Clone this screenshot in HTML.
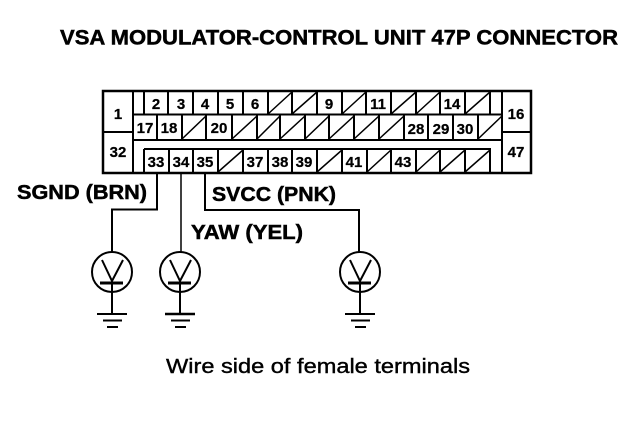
<!DOCTYPE html>
<html><head><meta charset="utf-8"><style>
html,body{margin:0;padding:0;background:#fff;width:640px;height:428px;overflow:hidden}
svg{display:block}
text{font-family:"Liberation Sans",sans-serif;fill:#000}
.b{font-weight:bold;stroke:#000;stroke-width:.5px}
.n{font-size:15px;font-weight:bold;text-anchor:middle;stroke:#000;stroke-width:.25px}
.l{stroke:#000;fill:none;stroke-width:2}
.t{stroke:#000;fill:none;stroke-width:1.5}
</style></head><body>
<svg width="640" height="428" viewBox="0 0 640 428" xmlns="http://www.w3.org/2000/svg">
<text class="b" x="60" y="44.500" font-size="21.500" textLength="558" lengthAdjust="spacingAndGlyphs">VSA MODULATOR-CONTROL UNIT 47P CONNECTOR</text>

<path class="l" style="stroke-width:2.5" d="M103 91H531V173H103Z"/>
<path class="l" d="M133 91V173M502 91V173M103 132H133M502 132H531M133 114.500H502M133 140H502M144 149H490V173M144 149V173"/>
<!-- row 1 verticals -->
<path class="l" d="M144 91V115M168 91V115M193 91V115M218 91V115M243 91V115M268 91V115M292 91V115M317 91V115M342 91V115M366 91V115M391 91V115M416 91V115M440 91V115M465 91V115M490 91V115"/>
<!-- row 2 verticals -->
<path class="l" d="M157 115V140M182 115V140M206 115V140M232 115V140M257 115V140M280 115V140M305 115V140M329 115V140M354 115V140M379 115V140M404 115V140M428 115V140M453 115V140M478 115V140"/>
<!-- row 3 verticals -->
<path class="l" d="M169 149V173M193 149V173M218 149V173M243 149V173M268 149V173M292 149V173M317 149V173M342 149V173M367 149V173M391 149V173M416 149V173M440 149V173M465 149V173"/>
<!-- diagonals -->
<path class="t" d="M268 114L292 92M292 114L317 92M342 114L366 92M391 114L416 92M416 114L440 92M465 114L490 92
M182 139L206 116M232 139L257 116M257 139L280 116M280 139L305 116M305 139L329 116M329 139L354 116M354 139L379 116M379 139L404 116M478 139L502 116
M218 172L243 150M317 172L342 150M367 172L391 150M416 172L440 150M440 172L465 150M465 172L490 150"/>

<g>
<text class="n" x="118" y="119">1</text>
<text class="n" x="118" y="157">32</text>
<text class="n" x="516" y="119">16</text>
<text class="n" x="516" y="157">47</text>
<text class="n" x="156" y="109">2</text>
<text class="n" x="181" y="109">3</text>
<text class="n" x="205" y="109">4</text>
<text class="n" x="230" y="109">5</text>
<text class="n" x="255" y="109">6</text>
<text class="n" x="329" y="109">9</text>
<text class="n" x="378" y="109">11</text>
<text class="n" x="452" y="109">14</text>
<text class="n" x="145" y="133">17</text>
<text class="n" x="169" y="133">18</text>
<text class="n" x="219" y="133">20</text>
<text class="n" x="416" y="134">28</text>
<text class="n" x="441" y="134">29</text>
<text class="n" x="465" y="134">30</text>
<text class="n" x="156" y="167">33</text>
<text class="n" x="181" y="167">34</text>
<text class="n" x="205" y="167">35</text>
<text class="n" x="255" y="167">37</text>
<text class="n" x="280" y="167">38</text>
<text class="n" x="304" y="167">39</text>
<text class="n" x="354" y="167">41</text>
<text class="n" x="403" y="167">43</text>
</g>

<text class="b" x="17" y="199" font-size="20" textLength="130" lengthAdjust="spacingAndGlyphs">SGND (BRN)</text>
<text class="b" x="212" y="201" font-size="20" textLength="124" lengthAdjust="spacingAndGlyphs">SVCC (PNK)</text>
<text class="b" x="191" y="239" font-size="20" textLength="112" lengthAdjust="spacingAndGlyphs">YAW (YEL)</text>

<path class="l" d="M157 173V209.500H112V252"/>
<path class="t" d="M181 173V252"/>
<path class="l" d="M205 173V210H359V252"/>

<g>
<circle class="l" cx="112" cy="272" r="20"/>
<path class="l" d="M102 260L112 281L123 260"/>
<path class="l" style="stroke-width:3" d="M100 283H123"/>
<path class="l" d="M112 283V313"/>
<path class="l" d="M97 314H127"/>
<path class="l" d="M103 320.500H122"/>
<path class="l" d="M107 327H118"/>
</g>
<g transform="translate(68,0)">
<circle class="l" cx="112" cy="272" r="20"/>
<path class="l" d="M102 260L112 281L123 260"/>
<path class="l" style="stroke-width:3" d="M100 283H123"/>
<path class="l" d="M112 283V313"/>
<path class="l" style="stroke-width:2.500" d="M97 314H127"/>
<path class="l" d="M103 320.500H122"/>
<path class="l" d="M107 327H118"/>
</g>
<g transform="translate(248,0)">
<circle class="l" cx="112" cy="272" r="20"/>
<path class="l" d="M102 260L112 281L123 260"/>
<path class="l" style="stroke-width:3" d="M100 283H123"/>
<path class="l" d="M112 283V313"/>
<path class="l" d="M97 314H127"/>
<path class="l" d="M103 320.500H122"/>
<path class="l" d="M107 327H118"/>
</g>

<text x="166" y="373" font-size="20.500" textLength="304" lengthAdjust="spacingAndGlyphs" stroke="#000" stroke-width=".4">Wire side of female terminals</text>
</svg>
</body></html>
